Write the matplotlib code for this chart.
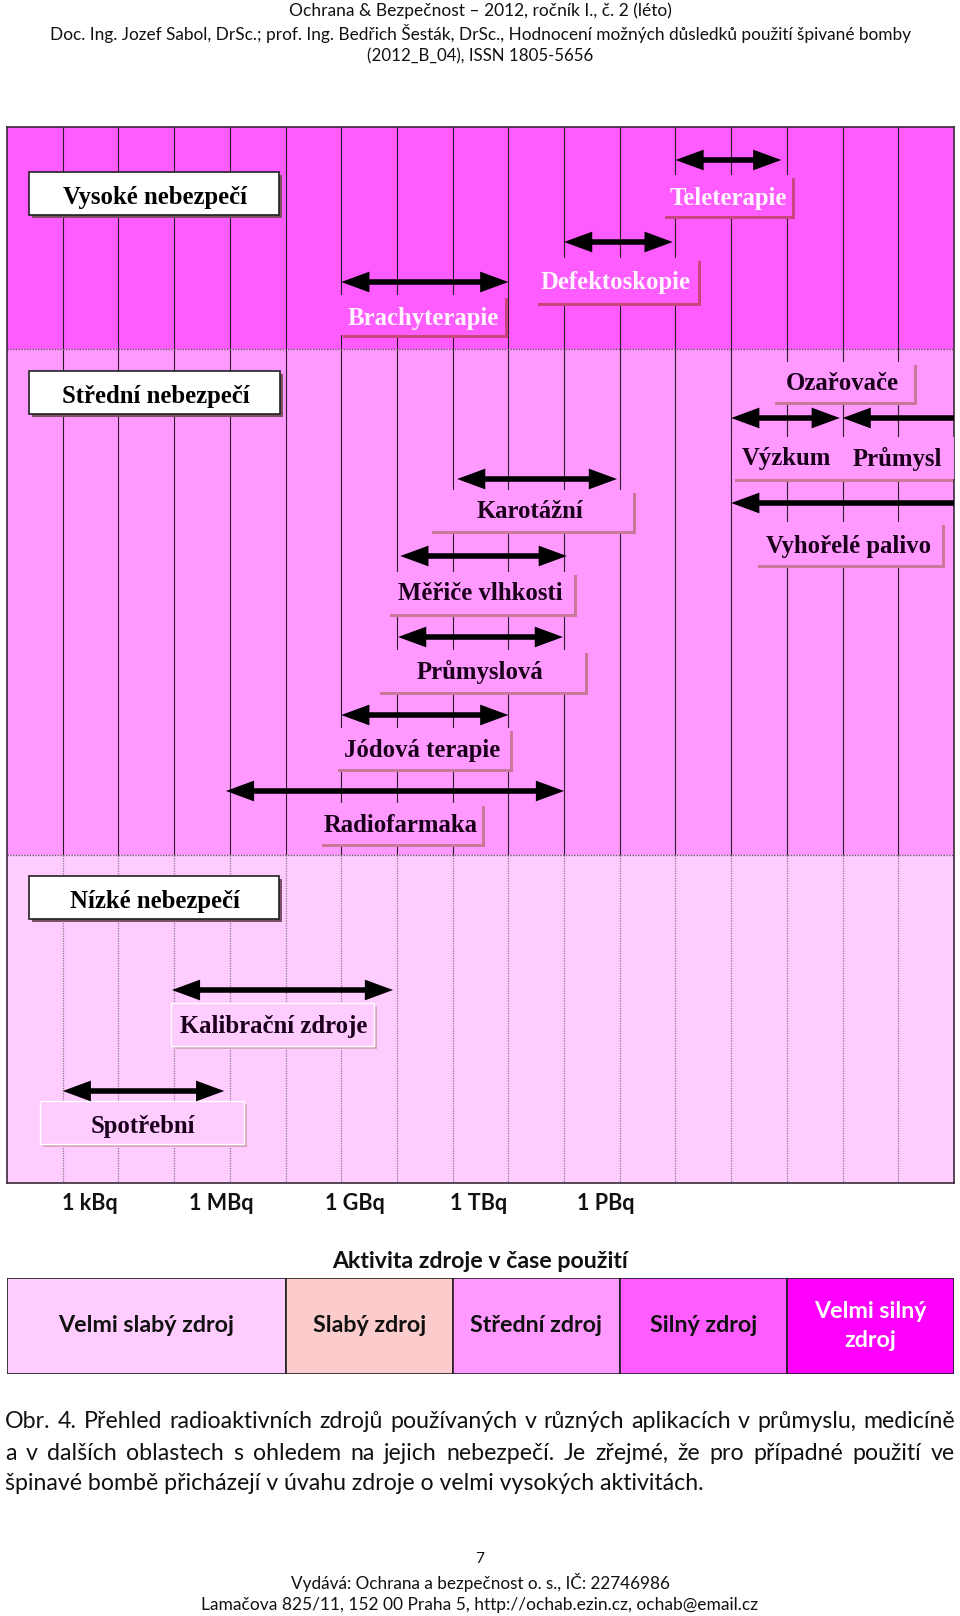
import matplotlib
matplotlib.use('Agg')
import matplotlib.pyplot as plt
from matplotlib.patches import Rectangle, FancyArrowPatch, ArrowStyle

W, H = 960, 1616
SANS = ['Lato', 'DejaVu Sans']
SERIF = ['Liberation Serif', 'DejaVu Serif']

# chart box on the page (pixels from top-left)
CX0, CX1, CY0, CY1 = 7, 954, 127, 1183
NCOL = 17
COLW = (CX1 - CX0) / NCOL

### Data ###

zone_names = ['Vysoké nebezpečí', 'Střední nebezpečí', 'Nízké nebezpečí']
zone_edges = [0, 222, 728, 1056]          # chart rows, from top
zone_colors = ['#ff5cff', '#ff99ff', '#ffccff']

tick_pos = [1.49, 3.84, 6.25, 8.46, 10.74]
tick_labels = ['1 kBq', '1 MBq', '1 GBq', '1 TBq', '1 PBq']

# activity ranges of the applications (in grid columns)
app_names = ['Teleterapie', 'Defektoskopie', 'Brachyterapie', 'Výzkum', 'Průmysl',
             'Vyhořelé palivo', 'Karotážní', 'Měřiče vlhkosti', 'Průmyslová',
             'Jódová terapie', 'Radiofarmaka', 'Kalibrační zdroje', 'Spotřební']
app_lo = [12.0, 10.0, 6.0, 13.0, 15.0, 13.0, 8.08, 7.06, 7.02, 6.0, 3.93, 2.96, 1.0]
app_hi = [13.9, 11.95, 9.0, 14.95, 17.0, 17.0, 10.95, 10.05, 9.98, 9.0, 10.0, 6.93, 3.9]
app_open = [0, 0, 0, 0, 1, 1, 0, 0, 0, 0, 0, 0, 0]   # 1 = no head on the right
group_name = 'Ozařovače'   # heading over Výzkum / Průmysl

class_names = ['Velmi slabý zdroj', 'Slabý zdroj', 'Střední zdroj', 'Silný zdroj', 'Velmi silný\nzdroj']
class_edges = [0, 5, 8, 11, 14, 17]
class_colors = ['#ffccff', '#fccccc', '#ff99ff', '#ff5cff', '#ff00ff']

header = ['Ochrana & Bezpečnost – 2012, ročník I., č. 2 (léto)',
          'Doc. Ing. Jozef Sabol, DrSc.; prof. Ing. Bedřich Šesták, DrSc., Hodnocení možných důsledků použití špivané bomby',
          '(2012_B_04), ISSN 1805-5656']
caption = ['Obr. 4. Přehled radioaktivních zdrojů používaných v různých aplikacích v průmyslu, medicíně',
           'a v dalších oblastech s ohledem na jejich nebezpečí. Je zřejmé, že pro případné použití ve',
           'špinavé bombě přicházejí v úvahu zdroje o velmi vysokých aktivitách.']
footer = ['7', 'Vydává: Ochrana a bezpečnost o. s., IČ: 22746986',
          'Lamačova 825/11, 152 00 Praha 5, http://ochab.ezin.cz, ochab@email.cz']

### Layout ###

arrow_y = [33, 115, 155, 291, 291, 376, 352, 429, 510, 588, 664, 863, 964]

# label boxes: x0, x1 (columns), y0, y1 (rows), style
boxes = [(0.39, 4.94, 45, 91, 'cat'), (0.39, 4.96, 244, 290, 'cat'), (0.39, 4.94, 749, 795, 'cat'),
         (11.76, 14.15, 48, 92, 'hi'), (9.48, 12.46, 131, 179, 'hi'), (5.98, 9.0, 168, 211, 'hi'),
         (13.73, 16.34, 235, 278, 'mid'), (13.02, 17.2, 310, 355, 'mid'), (13.43, 16.84, 395, 441, 'mid'),
         (7.58, 11.29, 363, 407, 'mid'), (6.82, 10.23, 445, 490, 'mid'), (6.64, 10.43, 523, 568, 'mid'),
         (5.89, 9.08, 601, 645, 'mid'), (5.6, 8.58, 676, 720, 'mid'),
         (2.94, 6.64, 876, 922, 'lo'), (0.59, 4.31, 974, 1020, 'lo')]
box_style = {'cat': ('white', '#202020', '#7d5065'),
             'hi': (zone_colors[0], 'none', '#c9457d'),
             'mid': (zone_colors[1], 'none', '#c9789a'),
             'lo': (zone_colors[2], 'white', '#d9a6bf')}

# text positions (column, row)
zone_text = [(2.66, 70.5), (2.67, 269.5), (2.66, 774.5)]
app_text = [(12.94, 71), (10.92, 155), (7.47, 191.5), (14.0, 332), (15.98, 332), (15.1, 419),
            (9.39, 384), (8.49, 467), (8.49, 545), (7.45, 624), (7.06, 699), (4.79, 900), (2.44, 999)]
app_color = ['#fff4ff'] * 3 + ['#1a001a'] * 10
group_text = (14.99, 257)

fig = plt.figure(figsize=(W / 100, H / 100), dpi=100)
renderer = fig.canvas.get_renderer()


def fx(x):
    return x / W


def fy(y):
    return 1 - y / H


def width_of(t):
    return t.get_window_extent(renderer).width


def fit_text(x, y, s, width, ha='center', **kw):
    t = fig.text(fx(x), fy(y), s, fontsize=14, ha=ha, va='center', **kw)
    t.set_fontsize(14 * width / width_of(t))
    return t


def justify(y, line, x0, x1, size):
    ts = [fig.text(0, fy(y), w, fontsize=size, va='center', family=SANS, color='#111111')
          for w in line.split()]
    ws = [width_of(t) for t in ts]
    gap = (x1 - x0 - sum(ws)) / (len(ts) - 1)
    x = x0
    for t, w in zip(ts, ws):
        t.set_x(fx(x))
        x += w + gap


# header
fit_text(480, 11, header[0], 382, family=SANS, color='#111111')
fit_text(480, 33.5, header[1], 865, family=SANS, color='#111111')
fit_text(480, 56, header[2], 228, family=SANS, color='#111111')

# main chart
ax = fig.add_axes([fx(CX0), fy(CY1), (CX1 - CX0) / W, (CY1 - CY0) / H])
ax.set_xlim(0, NCOL)
ax.set_ylim(zone_edges[-1], 0)

for i in range(3):
    ax.axhspan(zone_edges[i], zone_edges[i + 1], color=zone_colors[i], lw=0, zorder=0)
for k in range(1, NCOL):
    ax.vlines(k, 0, zone_edges[2], color='#2a1a2a', lw=0.8, zorder=1)
    ax.vlines(k, zone_edges[2], zone_edges[3], color='#8a7a8a', lw=0.9, linestyles=(0, (1, 1)), zorder=1)
for yb in zone_edges[1:3]:
    ax.axhline(yb, color='#6a5a6a', lw=1.0, ls=(0, (1, 1)), zorder=1)

shx, shy = 3 / COLW, 3
for x0, x1, y0, y1, st in boxes:
    fc, ec, sc = box_style[st]
    ax.add_patch(Rectangle((x0 + shx, y0 + shy), x1 - x0 - shx, y1 - y0 - shy, fc=sc, ec='none', zorder=2))
    ax.add_patch(Rectangle((x0, y0), x1 - x0 - shx, y1 - y0 - shy, fc=fc, ec=ec,
                           lw=1.2 if st == 'cat' else 1.0, zorder=3))

for (x, y), s in zip(zone_text, zone_names):
    ax.text(x, y, s, ha='center', va='center', family=SERIF, weight='bold', fontsize=17.8,
            color='black', zorder=4)
for (x, y), s, c in zip(app_text, app_names, app_color):
    ax.text(x, y, s, ha='center', va='center', family=SERIF, weight='bold', fontsize=17.8,
            color=c, zorder=4)
ax.text(group_text[0], group_text[1], group_name, ha='center', va='center', family=SERIF,
        weight='bold', fontsize=17.8, color='#1a001a', zorder=4)

for lo, hi, y, op in zip(app_lo, app_hi, arrow_y, app_open):
    style = ArrowStyle('<|-' if op else '<|-|>', head_length=12.5, head_width=4.6)
    ax.add_patch(FancyArrowPatch((lo, y), (hi, y), arrowstyle=style, mutation_scale=1, lw=4,
                                 color='black', shrinkA=0, shrinkB=0, joinstyle='miter',
                                 capstyle='butt', zorder=6))

ax.set_yticks([])
ax.set_xticks(tick_pos)
ax.set_xticklabels(tick_labels, family=SANS, weight='bold', fontsize=15.5, color='#111111')
ax.tick_params(axis='x', length=0, pad=7)
for sp in ax.spines.values():
    sp.set_color('#3a2a3a')
    sp.set_linewidth(1.2)

# activity classes
fit_text(480, 1262, 'Aktivita zdroje v čase použití', 297, family=SANS, weight='bold', color='#111111')

lax = fig.add_axes([fx(CX0), fy(1374), (CX1 - CX0) / W, (1374 - 1278) / H])
lax.set_xlim(0, NCOL)
lax.set_ylim(0, 1)
lax.barh(0.5, [b - a for a, b in zip(class_edges[:-1], class_edges[1:])], left=class_edges[:-1],
         height=1, color=class_colors, edgecolor='#202020', lw=1.2)
lax.axis('off')
probe = lax.text(0, 0, class_names[0], fontsize=14, family=SANS, weight='bold')
csize = 14 * 177 / width_of(probe)
probe.remove()
for i, s in enumerate(class_names):
    xc = (class_edges[i] + class_edges[i + 1]) / 2
    lax.text(xc, 0.5, s, ha='center', va='center', family=SANS, weight='bold', fontsize=csize,
             color='white' if i == 4 else '#111111', linespacing=1.42)

# caption
probe = fig.text(0, 0, caption[2], fontsize=14, family=SANS)
capsize = 14 * 703 / width_of(probe)
probe.remove()
justify(1422, caption[0], 5, 955, capsize)
justify(1453, caption[1], 5, 955, capsize)
fig.text(fx(5), fy(1484), caption[2], fontsize=capsize, va='center', family=SANS, color='#111111')

# footer
fit_text(480, 1559, footer[0], 9, family=SANS, color='#111111')
fit_text(480, 1583, footer[1], 380, family=SANS, color='#111111')
fit_text(480, 1605, footer[2], 560, family=SANS, color='#111111')

fig.savefig('out.png', dpi=100, facecolor='white')
